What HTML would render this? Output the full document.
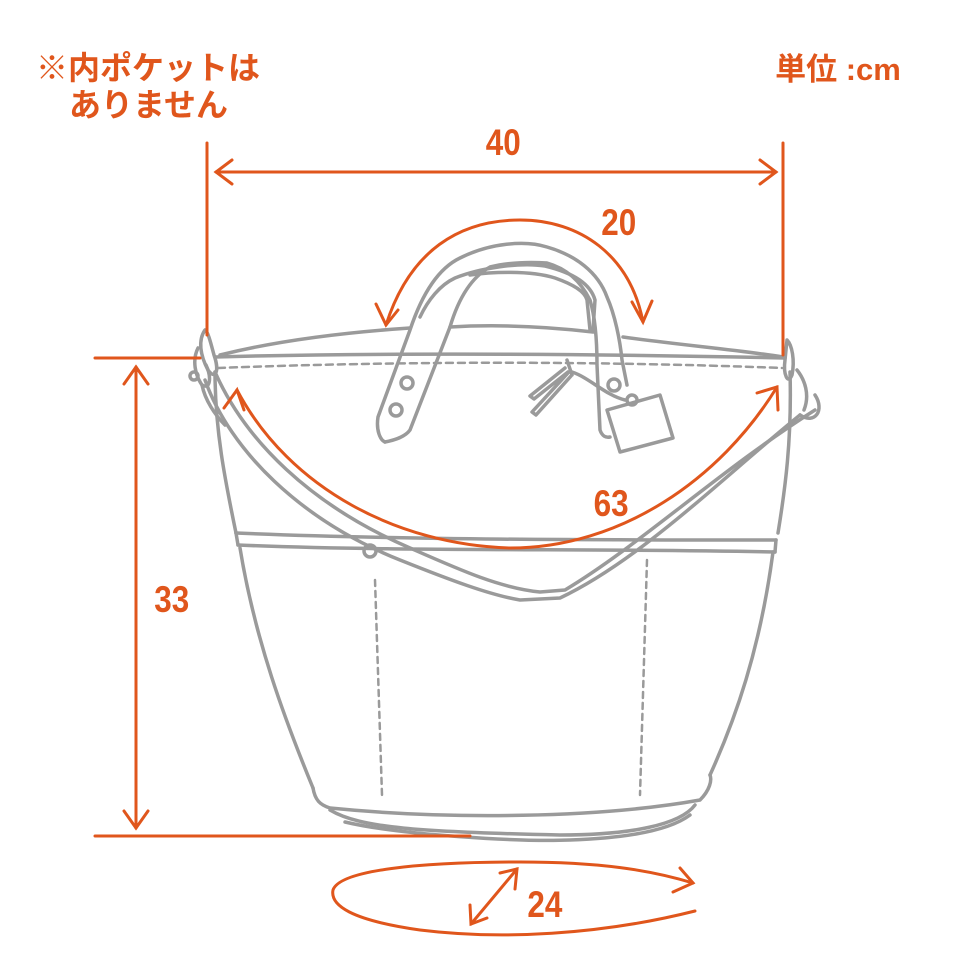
<!DOCTYPE html>
<html><head><meta charset="utf-8"><style>
html,body{margin:0;padding:0;background:#fff;}
svg{display:block;}
.t{font-family:"Liberation Sans","Noto Sans CJK JP",sans-serif;font-weight:bold;fill:#e0561c;}
</style></head><body>
<svg width="963" height="963" viewBox="0 0 963 963" xmlns="http://www.w3.org/2000/svg">
<g fill="none" stroke="#9a9a9a" stroke-width="3.5" stroke-linecap="round" stroke-linejoin="round">
<!-- back top edge -->
<path d="M220 355 C280 340 350 332 410 328"/>
<path d="M450 327 C500 324 550 327 593 332"/>
<path d="M623 337 C680 345 740 350 783 357"/>
<!-- rim -->
<path d="M215 357 C400 352 600 354 785 358"/>
<path d="M218 368 C400 361 600 361 782 368" stroke-dasharray="7 5" stroke-width="2.5"/>
<!-- body sides -->
<path d="M215 372 C215 430 225 480 236 533"/>
<path d="M790 372 C792 440 785 490 778 533"/>
<!-- band -->
<path d="M236 533 C400 540 600 540 776 540"/>
<path d="M236 533 L238 545"/>
<path d="M776 540 L775 552"/>
<path d="M238 545 C400 552 600 548 775 552"/>
<!-- lower body -->
<path d="M240 548 C255 640 285 720 313 788"/>
<path d="M773 552 C760 650 735 720 710 775"/>
<!-- bottom -->
<path d="M313 788 C315 800 320 805 330 808 C450 820 600 818 700 800 C710 790 712 780 710 775"/>
<path d="M330 810 C360 828 420 832 560 835 C630 835 680 825 695 805"/>
<path d="M345 822 C400 835 520 842 570 840 C630 838 670 830 690 815"/>
<!-- dashed seams -->
<path d="M375 580 L382 795" stroke-dasharray="6 5" stroke-width="2.5"/>
<path d="M647 560 L640 795" stroke-dasharray="6 5" stroke-width="2.5"/>
<circle cx="370" cy="551" r="6"/>
<!-- strap -->
<path d="M205 380 C230 450 300 520 400 560 C450 580 490 595 520 600 L560 598 C640 560 720 480 800 415"/>
<path d="M215 372 C245 440 310 505 410 548 C460 570 500 588 540 592 L565 590 C640 545 720 470 815 410"/>
<path d="M800 415 C815 425 825 410 815 395"/>
<!-- left clasp -->
<path d="M205 330 C198 340 200 355 208 370 C215 380 220 372 214 355 C210 340 208 332 205 330Z"/>
<path d="M198 348 C192 360 195 375 202 385 C210 390 212 378 206 365"/>
<circle cx="194" cy="376" r="4"/>
<path d="M202 385 C205 400 215 415 225 425"/>
<!-- right clasp -->
<path d="M787 340 C792 345 795 360 792 375 C788 385 783 375 785 360Z"/>
<path d="M797 370 C805 380 810 395 804 410"/>
<!-- back handle -->
<path d="M420 317 C428 300 440 285 455 278 C480 268 520 262 545 266 C570 272 590 282 595 300 L593 330"/>
<path d="M470 275 C490 272 530 270 555 278 C575 285 585 292 587 300 L590 330"/>
<!-- front handle -->
<path d="M385 442 C380 440 376 430 378 417 L410 330 C420 300 435 270 460 258 C490 243 525 240 547 247 C575 255 598 272 607 297 C615 315 620 340 622 360 L627 385"/>
<path d="M385 442 C395 440 405 437 410 430 L450 327 C458 300 470 278 490 267 C510 262 530 262 547 263 C565 268 580 280 590 300 C596 320 597 345 597 365 L600 430 C602 436 606 438 610 437"/>
<circle cx="407" cy="383" r="6"/>
<circle cx="396" cy="410" r="6"/>
<circle cx="614" cy="385" r="6"/>
<!-- zipper pull + tag -->
<path d="M567 360 L572 375 M565 368 L530 396 L534 399 L568 372 M568 373 L532 412 L536 415 L571 376"/>
<path d="M572 372 C590 378 605 395 625 400"/>
<circle cx="632" cy="400" r="5"/>
<path d="M607 410 L660 395 L673 438 L620 452 Z"/>
</g>
<g fill="none" stroke="#e0561c" stroke-width="3" stroke-linecap="round">
<path d="M207 143 V335"/>
<path d="M783 143 V355"/>
<path d="M216 172 H776"/>
<path d="M232 160 L216 172 L232 184 M760 160 L776 172 L760 184"/>
<path d="M95 358 H200"/>
<path d="M95 836 H470"/>
<path d="M136 367 V828"/>
<path d="M124 384 L136 367 L148 384 M124 811 L136 828 L148 811"/>
<path d="M386 325 C410 250 460 220 520 220 C580 220 630 255 643 322"/>
<path d="M376 304 L386 325 L398 310 M632 302 L643 322 L652 301"/>
<path d="M237 390 C290 490 400 545 510 548 C620 548 720 480 777 387"/>
<path d="M224 408 L237 390 L244 410 M757 393 L777 387 L778 410"/>
<path d="M695 911 C600 935 500 940 420 930 C350 920 330 905 333 890 C340 870 420 862 520 862 C600 862 650 870 693 883"/>
<path d="M680 868 L693 883 L673 892"/>
<path d="M471 924 L517 869"/>
<path d="M470 905 L471 924 L487 918 M500 873 L517 869 L515 889"/>
</g>
<g transform="scale(0.85,1)">
<text class="t" x="592" y="155" font-size="37" text-anchor="middle">40</text>
<text class="t" x="728" y="235" font-size="37" text-anchor="middle">20</text>
<text class="t" x="719" y="516" font-size="37" text-anchor="middle">63</text>
<text class="t" x="202" y="612" font-size="37" text-anchor="middle">33</text>
<text class="t" x="641" y="917" font-size="37" text-anchor="middle">24</text>
</g>
<text class="t" x="838" y="80" font-size="31" text-anchor="middle">単位 :cm</text>
<text class="t" x="36" y="79" font-size="32">※内ポケットは</text>
<text class="t" x="69" y="116" font-size="32">ありません</text>
</svg>
</body></html>
